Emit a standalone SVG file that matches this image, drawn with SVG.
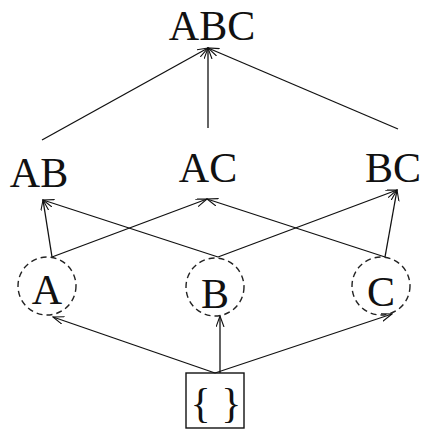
<svg xmlns="http://www.w3.org/2000/svg" width="423" height="430" viewBox="0 0 423 430">
<defs>
<marker id="arr" markerWidth="12" markerHeight="10" refX="11" refY="4" orient="auto" markerUnits="userSpaceOnUse">
<path d="M0,0 L11,4 L0,8" fill="none" stroke="#111" stroke-width="1.1"/>
</marker>
<style>
.lbl{font-family:"Liberation Serif","Times New Roman",serif;font-size:42px;fill:#111;text-anchor:middle}
.edge{stroke:#111;stroke-width:1.3;fill:none;marker-end:url(#arr)}
.dash{stroke:#222;stroke-width:1.4;fill:none;stroke-dasharray:6 4}
</style>
</defs>
<rect width="423" height="430" fill="#fff"/>
<g id="connectors">
<line class="edge" x1="42" y1="140" x2="208" y2="48"/>
<line class="edge" x1="208" y1="128" x2="208" y2="48"/>
<line class="edge" x1="398" y1="129" x2="208" y2="48"/>
<line class="edge" x1="52" y1="257" x2="43" y2="200"/>
<line class="edge" x1="52" y1="257" x2="207" y2="199"/>
<line class="edge" x1="218" y1="257" x2="43" y2="200"/>
<line class="edge" x1="218" y1="257" x2="397" y2="190"/>
<line class="edge" x1="385" y1="257" x2="207" y2="199"/>
<line class="edge" x1="385" y1="257" x2="397" y2="190"/>
<line class="edge" x1="215" y1="373" x2="53" y2="317"/>
<line class="edge" x1="220" y1="373" x2="220" y2="316"/>
<line class="edge" x1="215" y1="373" x2="392" y2="314"/>
</g>
<g id="ABC"><text class="lbl" x="212" y="40">ABC</text></g>
<g id="AB"><text class="lbl" x="39" y="187">AB</text></g>
<g id="AC"><text class="lbl" x="208" y="182">AC</text></g>
<g id="BC"><text class="lbl" x="393" y="182">BC</text></g>
<g id="A"><circle class="dash" cx="47" cy="286" r="29"/><text class="lbl" x="47" y="304">A</text></g>
<g id="B"><circle class="dash" cx="215" cy="287" r="29"/><text class="lbl" x="215" y="308">B</text></g>
<g id="C"><circle class="dash" cx="381" cy="286" r="29"/><text class="lbl" x="381" y="306">C</text></g>
<g id="empty"><rect x="186" y="373" width="58" height="55" fill="none" stroke="#111" stroke-width="1.4"/><text class="lbl" x="216" y="417" font-size="50">{ }</text></g>
</svg>
